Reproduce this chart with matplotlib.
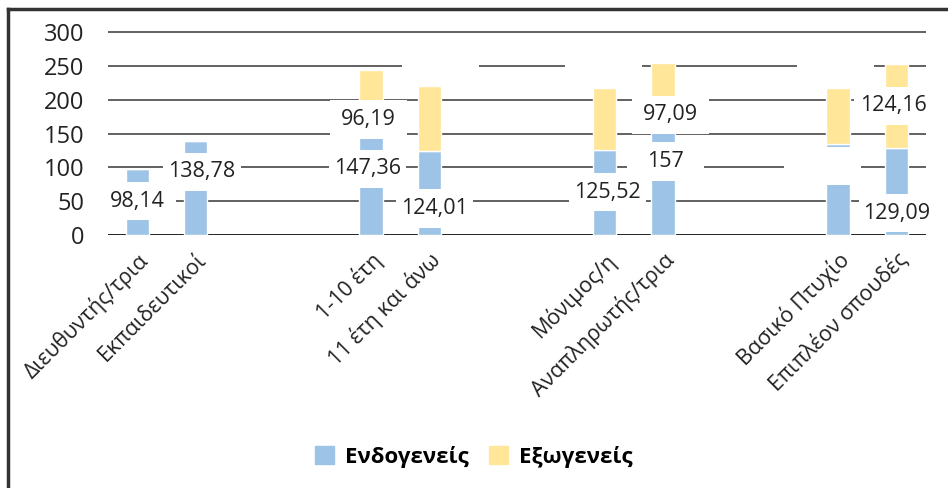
import matplotlib
matplotlib.use('Agg')
from matplotlib import pyplot as plt
from matplotlib import transforms
from matplotlib.patches import Rectangle, Patch
from matplotlib.lines import Line2D

plt.rcParams['font.family'] = ['Open Sans', 'DejaVu Sans']

# κατηγορίες (με κενές θέσεις ανάμεσα στις ομάδες)
kathgories = ['Διευθυντής/τρια', 'Εκπαιδευτικοί',
              '1-10 έτη', '11 έτη και άνω',
              'Μόνιμος/η', 'Αναπληρωτής/τρια',
              'Βασικό Πτυχίο', 'Επιπλέον σπουδές']
theseis = [0, 1, 4, 5, 8, 9, 12, 13]

endogeneis = [98.14, 138.78, 147.36, 124.01, 125.52, 157, 134.5, 129.09]
exogeneis = [0, 0, 96.19, 96.2, 92.2, 97.09, 83.0, 124.16]

# ετικέτες τιμών: θέση, κείμενο, ύψος κέντρου (κενό κείμενο = μόνο το λευκό κουτί)
etiketes_x = [0.0, 1.11, 3.95, 3.96, 5.09, 5.2, 8.05, 7.99, 9.04, 9.13, 11.73, 11.95, 12.94, 13.01]
etiketes_y = [50, 93.4, 97.7, 171, 39.4, 248, 63.3, 248, 108.8, 177.6, 101.8, 248, 191, 32.3]
etiketes_txt = ['98,14', '138,78', '147,36', '96,19', '124,01', '', '125,52', '',
                '157', '97,09', '', '', '124,16', '129,09']

mple = '#9DC3E6'
kitrino = '#FFE699'

fig = plt.figure(figsize=(9.48, 4.88), dpi=100)
ax = fig.add_axes([0.1139, 0.5184, 0.8626, 0.4183])

ax.bar(theseis, endogeneis, width=0.4, color=mple, edgecolor='white', linewidth=1, zorder=2)
ax.bar(theseis, exogeneis, width=0.4, bottom=endogeneis, color=kitrino,
       edgecolor='white', linewidth=1, zorder=2)

for x, y, t in zip(etiketes_x, etiketes_y, etiketes_txt):
    ax.add_patch(Rectangle((x - 0.66, y - 28.5), 1.32, 57, facecolor='white',
                           edgecolor='none', zorder=3, clip_on=False))
    if t:
        ax.text(x, y, t, ha='center', va='center', fontsize=15.5, color='#222222', zorder=4)

ax.set_xlim(-0.5, 13.5)
ax.set_ylim(0, 302)
ax.set_yticks([0, 50, 100, 150, 200, 250, 300])
ax.yaxis.grid(True, color='#555555', linewidth=1.3, zorder=0)
ax.set_axisbelow(True)
ax.axhline(0, color='#222222', linewidth=1.3, zorder=1)
for s in ax.spines.values():
    s.set_visible(False)

ax.set_xticks(theseis)
ax.set_xticklabels(kathgories, rotation=45, ha='right', va='top',
                   rotation_mode='anchor', fontsize=15.5, color='#222222')
metatopisi = transforms.ScaledTranslation(-8 / 100, 0, fig.dpi_scale_trans)
for lbl in ax.get_xticklabels():
    lbl.set_transform(lbl.get_transform() + metatopisi)
ax.tick_params(axis='x', length=0, pad=10)
ax.tick_params(axis='y', length=0, pad=17, labelsize=17, labelcolor='#222222')

# πλαίσιο αριστερά και πάνω
fig.add_artist(Line2D([8 / 948, 8 / 948], [0, 1 - 9 / 488], color='#333333', linewidth=2.5))
fig.add_artist(Line2D([8 / 948, 1], [1 - 9 / 488, 1 - 9 / 488], color='#333333', linewidth=2.5))

handles = [Patch(color=mple, label='Ενδογενείς'), Patch(color=kitrino, label='Εξωγενείς')]
fig.legend(handles=handles, loc='center', bbox_to_anchor=(0.5, 0.064), ncol=2,
           frameon=False, handlelength=0.85, handleheight=0.85, handletextpad=0.5,
           columnspacing=0.9, prop={'size': 16, 'weight': 'bold'})

fig.savefig('out.png', dpi=100)
